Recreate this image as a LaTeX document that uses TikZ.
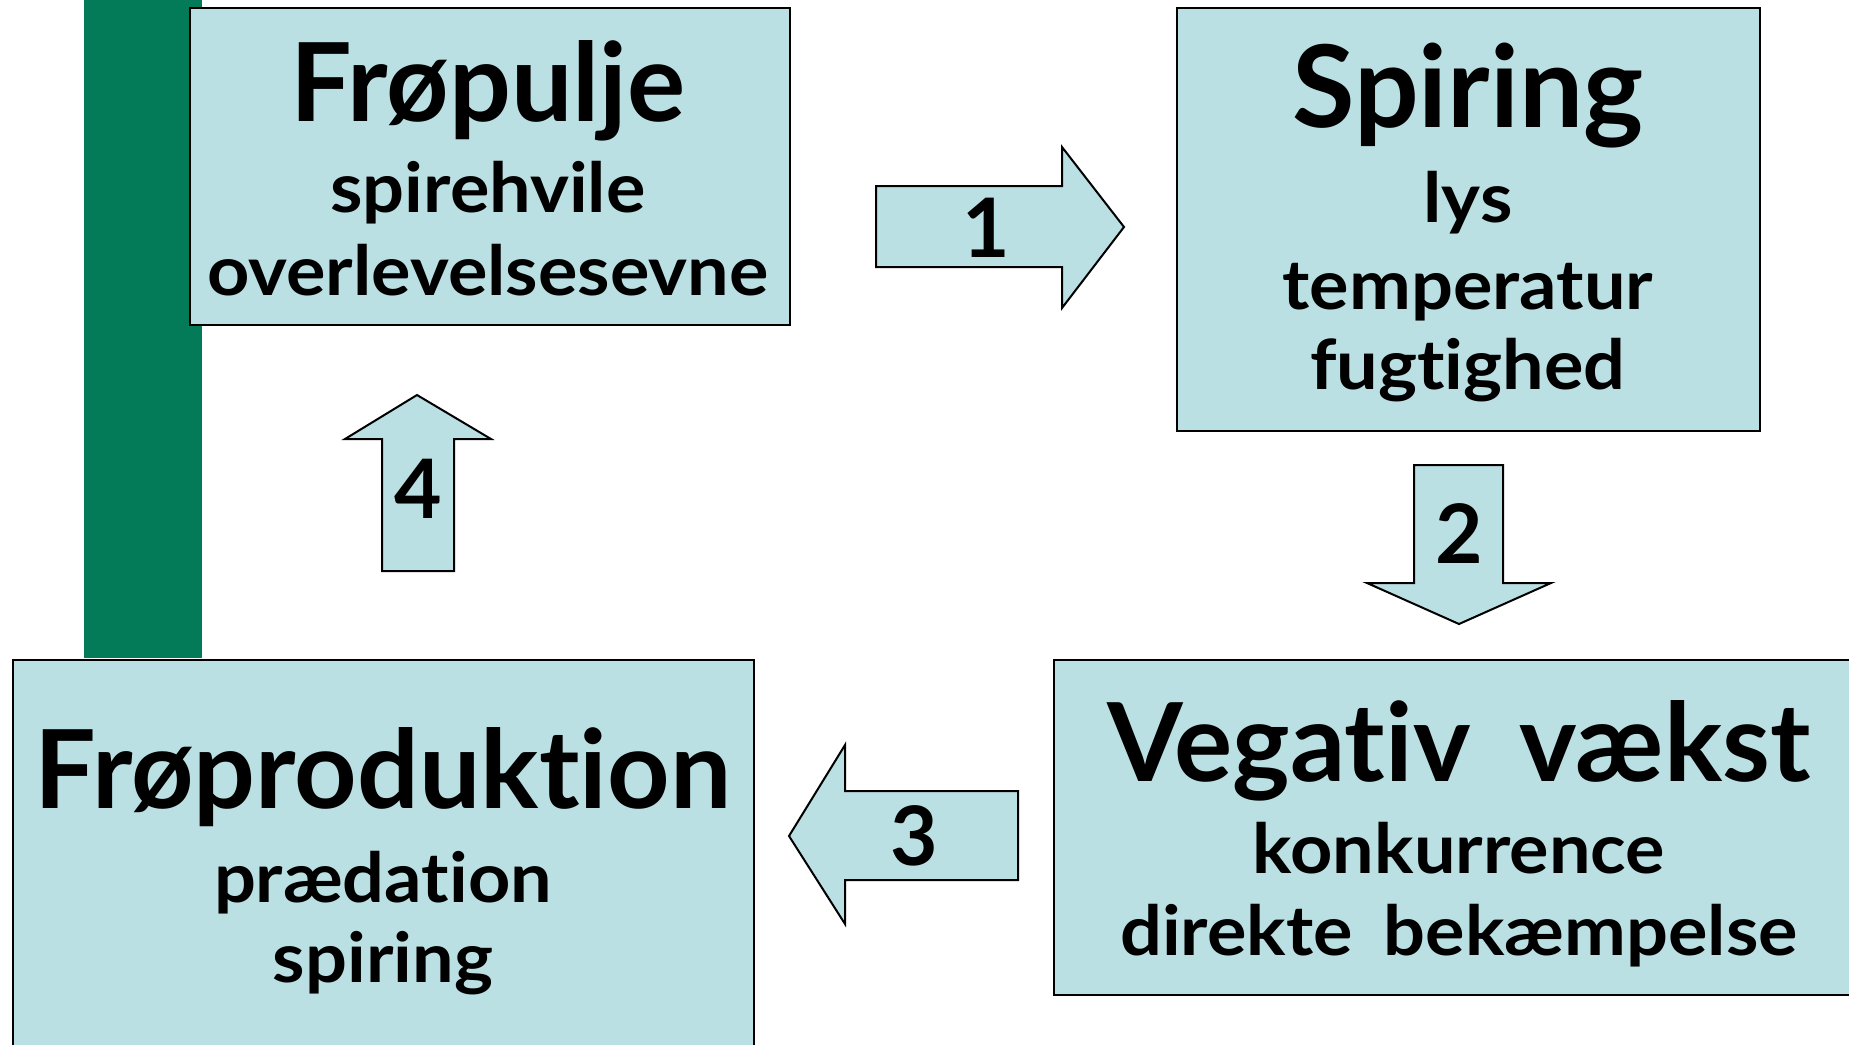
\documentclass[tikz,border=0pt]{standalone}
\usepackage{fontspec}
\setmainfont{Lato}[Ligatures={NoCommon,NoRare}]
\newfontfamily\subfont{Lato}[Ligatures={NoCommon,NoRare}, FakeStretch=1.07]
\definecolor{boxfill}{RGB}{187,224,227}
\definecolor{bargreen}{RGB}{3,122,88}
\begin{document}
\begin{tikzpicture}[x=1pt,y=-1pt,
  box/.style={draw=black, line width=2pt, fill=boxfill, inner sep=0pt, anchor=north west},
  blockarrow/.style={draw=black, line width=2pt, fill=boxfill, line join=miter},
  title/.style={anchor=base, inner sep=0pt, font=\fontsize{109}{120}\selectfont\bfseries},
  sub/.style={anchor=base, inner sep=0pt, font=\subfont\fontsize{69}{76}\selectfont\bfseries},
  num/.style={inner sep=0pt, font=\fontsize{82}{90}\selectfont\bfseries}]
\useasboundingbox (0,0) rectangle (1849,1044);
\fill[white] (0,0) rectangle (1849,1044);

% green side bar
\fill[bargreen] (84,0) rectangle (202,658);

% the four stages
\node[box, minimum width=600pt, minimum height=317pt] (fropulje) at (189,7) {};
\node[box, minimum width=583pt, minimum height=423pt] (spiring) at (1176,7) {};
\node[box, minimum width=807pt, minimum height=335pt] (vaekst) at (1053,659) {};
\node[box, minimum width=741pt, minimum height=400pt] (produktion) at (12,659) {};

\node[title] (t1) at (488,121) {Frøpulje};
\node[sub] (t1a) at (488,212) {spirehvile};
\node[sub] (t1b) at (488,295) {overlevelsesevne};

\node[title] (t2) at (1468,127) {\fontsize{114}{120}\selectfont Spiring};
\node[sub] (t2a) at (1468,222) {lys};
\node[sub] (t2b) at (1468,309) {temperatur};
\node[sub] (t2c) at (1468,389) {fugtighed};

\node[title] (t3) at (1459,781) {Vegativ\hspace{0.45em}vækst};
\node[sub] (t3a) at (1459,873) {konkurrence};
\node[sub] (t3b) at (1459,955) {direkte\hspace{0.45em}bekæmpelse};

\node[title] (t4) at (383,808) {Frøproduktion};
\node[sub] (t4a) at (383,902) {prædation};
\node[sub] (t4b) at (383,982) {spiring};

% block arrows between the stages
\draw[blockarrow] (876,186) -- (1062,186) -- (1062,147) -- (1124,227)
  -- (1062,308) -- (1062,267) -- (876,267) -- cycle;
\node[num] (n1) at (986,228) {1};

\draw[blockarrow] (1414,465) -- (1503,465) -- (1503,583) -- (1551,583)
  -- (1459,624) -- (1367,583) -- (1414,583) -- cycle;
\node[num] (n2) at (1459,534) {2};

\draw[blockarrow] (789,836) -- (845,745) -- (845,791) -- (1018,791)
  -- (1018,880) -- (845,880) -- (845,924) -- cycle;
\node[num] (n3) at (914,836) {3};

\draw[blockarrow] (417,395) -- (491,439) -- (454,439) -- (454,571)
  -- (382,571) -- (382,439) -- (345,439) -- cycle;
\node[num] (n4) at (418,489) {4};
\end{tikzpicture}
\end{document}
